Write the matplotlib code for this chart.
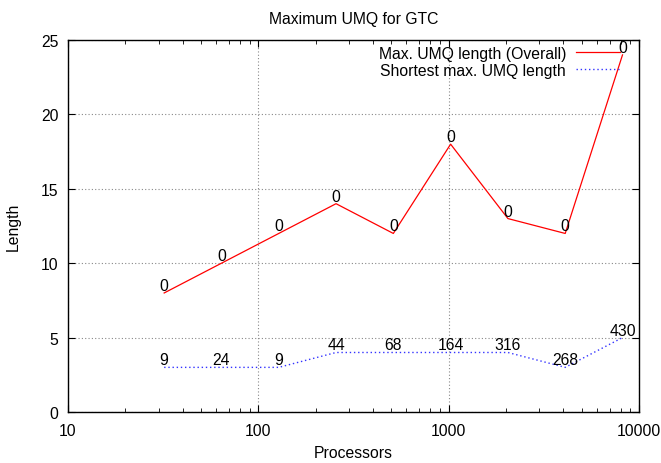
import numpy as np
import matplotlib
matplotlib.use("Agg")
import matplotlib.pyplot as plt
from matplotlib.ticker import LogLocator, NullFormatter, FixedLocator

plt.rcParams['font.family'] = ['Liberation Sans', 'DejaVu Sans']

procs = [32, 64, 128, 256, 512, 1024, 2048, 4096, 8192]
max_len = [8, 10, 12, 14, 12, 18, 13, 12, 24]
max_lbl = ['0', '0', '0', '0', '0', '0', '0', '0', '0']
short_len = [3, 3, 3, 4, 4, 4, 4, 3, 5]
short_lbl = ['9', '24', '9', '44', '68', '164', '316', '268', '430']

fs = 11.3

fig = plt.figure(figsize=(6.61, 4.64), dpi=100)
ax = fig.add_axes([0.1029, 0.1099, 0.8638, 0.8017])

ax.plot(procs, max_len, color='red', lw=0.9, label='Max. UMQ length (Overall)')
ax.plot(procs, short_len, color='#3333ff', lw=1.0, ls=(0, (1, 2)),
        label='Shortest max. UMQ length')

for x, y, t in zip(procs, max_len, max_lbl):
    ax.annotate(t, (x, y), xytext=(0, 0), textcoords='offset points',
                ha='center', va='bottom', fontsize=fs)
for x, y, t in zip(procs, short_len, short_lbl):
    ax.annotate(t, (x, y), xytext=(0, 0), textcoords='offset points',
                ha='center', va='bottom', fontsize=fs)

ax.set_xscale('log')
ax.set_xlim(10, 10000)
ax.set_ylim(0, 25)
ax.xaxis.set_major_locator(FixedLocator([10, 100, 1000, 10000]))
ax.set_xticklabels(['10', '100', '1000', '10000'])
ax.xaxis.set_minor_locator(LogLocator(base=10, subs=np.arange(2, 10)))
ax.xaxis.set_minor_formatter(NullFormatter())
ax.set_yticks([0, 5, 10, 15, 20, 25])

ax.tick_params(which='both', direction='in', top=True, right=True, labelsize=fs)
ax.tick_params(which='major', length=5)
ax.tick_params(which='minor', length=3)
ax.tick_params(axis='x', which='major', pad=8)
ax.tick_params(axis='y', which='major', pad=7)
ax.grid(True, which='major', color='#888888', ls=(0, (1, 2)), lw=0.8)
for s in ax.spines.values():
    s.set_linewidth(1.0)

ax.set_title('Maximum UMQ for GTC', fontsize=fs, pad=12)
ax.set_xlabel('Processors', fontsize=fs, labelpad=5)
ax.set_ylabel('Length', fontsize=fs, labelpad=14)

leg = ax.legend(loc='upper right', bbox_to_anchor=(0.967, 0.985),
                frameon=False, markerfirst=False, fontsize=fs,
                handlelength=2.8, borderaxespad=0, borderpad=0,
                labelspacing=0.15, handletextpad=0.65)
for t in leg.get_texts():
    t.set_ha('right')

fig.savefig('out.png', dpi=100)
